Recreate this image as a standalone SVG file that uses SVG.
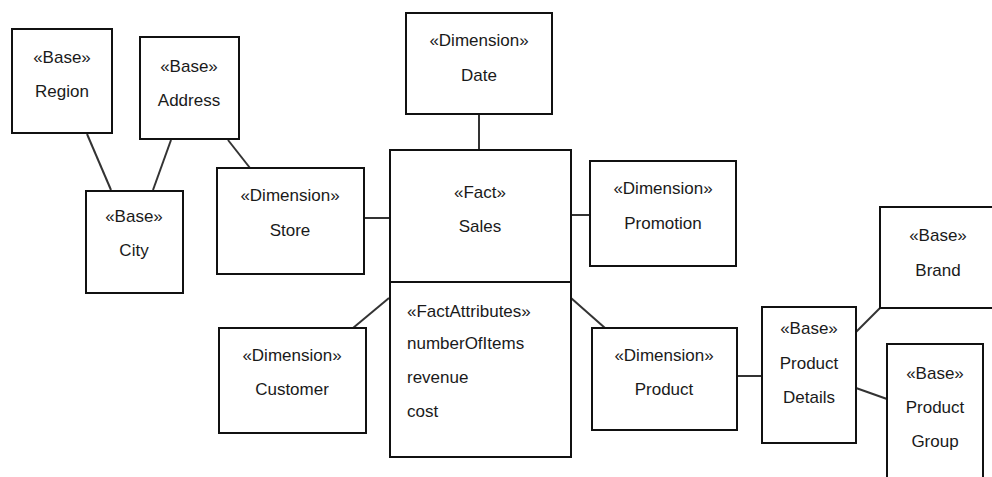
<svg xmlns="http://www.w3.org/2000/svg" width="992" height="477" viewBox="0 0 992 477">
<style>
.box{fill:#fff;stroke:#111;stroke-width:2}
.t{font-family:"Liberation Sans",Arial,sans-serif;font-size:17px;fill:#1a1a1a;text-anchor:middle}
.l{text-anchor:start}
.c{stroke:#333;stroke-width:2;fill:none}
</style>
<rect width="992" height="477" fill="#fff"/>
<g id="connectors">
<line class="c" x1="87" y1="134" x2="111" y2="190"/>
<line class="c" x1="171" y1="140" x2="153" y2="190"/>
<line class="c" x1="228" y1="140" x2="250" y2="168"/>
<line class="c" x1="479" y1="114" x2="479" y2="150"/>
<line class="c" x1="364" y1="218" x2="390" y2="218"/>
<line class="c" x1="571" y1="215" x2="590" y2="215"/>
<line class="c" x1="389" y1="298" x2="353" y2="328"/>
<line class="c" x1="571" y1="298" x2="605" y2="328"/>
<line class="c" x1="737" y1="376" x2="762" y2="376"/>
<line class="c" x1="856" y1="332" x2="880" y2="308"/>
<line class="c" x1="856" y1="388" x2="887" y2="399"/>
</g>
<g id="region">
<rect class="box" x="12" y="29" width="100" height="104"/>
<text class="t" x="62" y="63">«Base»</text>
<text class="t" x="62" y="97">Region</text>
</g>
<g id="address">
<rect class="box" x="140" y="37" width="99" height="102"/>
<text class="t" x="189" y="72">«Base»</text>
<text class="t" x="189" y="106">Address</text>
</g>
<g id="city">
<rect class="box" x="86" y="191" width="97" height="102"/>
<text class="t" x="134" y="222">«Base»</text>
<text class="t" x="134" y="256">City</text>
</g>
<g id="store">
<rect class="box" x="217" y="168" width="147" height="106"/>
<text class="t" x="290" y="201">«Dimension»</text>
<text class="t" x="290" y="236">Store</text>
</g>
<g id="date">
<rect class="box" x="406" y="13" width="146" height="101"/>
<text class="t" x="479" y="46">«Dimension»</text>
<text class="t" x="479" y="81">Date</text>
</g>
<g id="sales">
<rect class="box" x="390" y="150" width="181" height="132"/>
<text class="t" x="480" y="198">«Fact»</text>
<text class="t" x="480" y="232">Sales</text>
</g>
<g id="factattributes">
<rect class="box" x="390" y="282" width="181" height="175"/>
<text class="t l" x="407" y="317">«FactAttributes»</text>
<text class="t l" x="407" y="349">numberOfItems</text>
<text class="t l" x="407" y="383">revenue</text>
<text class="t l" x="407" y="417">cost</text>
</g>
<g id="promotion">
<rect class="box" x="590" y="161" width="146" height="105"/>
<text class="t" x="663" y="194">«Dimension»</text>
<text class="t" x="663" y="229">Promotion</text>
</g>
<g id="customer">
<rect class="box" x="219" y="328" width="147" height="105"/>
<text class="t" x="292" y="361">«Dimension»</text>
<text class="t" x="292" y="395">Customer</text>
</g>
<g id="product">
<rect class="box" x="592" y="328" width="145" height="102"/>
<text class="t" x="664" y="361">«Dimension»</text>
<text class="t" x="664" y="395">Product</text>
</g>
<g id="productdetails">
<rect class="box" x="762" y="307" width="94" height="136"/>
<text class="t" x="809" y="334">«Base»</text>
<text class="t" x="809" y="369">Product</text>
<text class="t" x="809" y="403">Details</text>
</g>
<g id="brand">
<rect class="box" x="880" y="207" width="118" height="101"/>
<text class="t" x="938" y="241">«Base»</text>
<text class="t" x="938" y="276">Brand</text>
</g>
<g id="productgroup">
<rect class="box" x="887" y="344" width="96" height="140"/>
<text class="t" x="935" y="379">«Base»</text>
<text class="t" x="935" y="413">Product</text>
<text class="t" x="935" y="447">Group</text>
</g>
</svg>
